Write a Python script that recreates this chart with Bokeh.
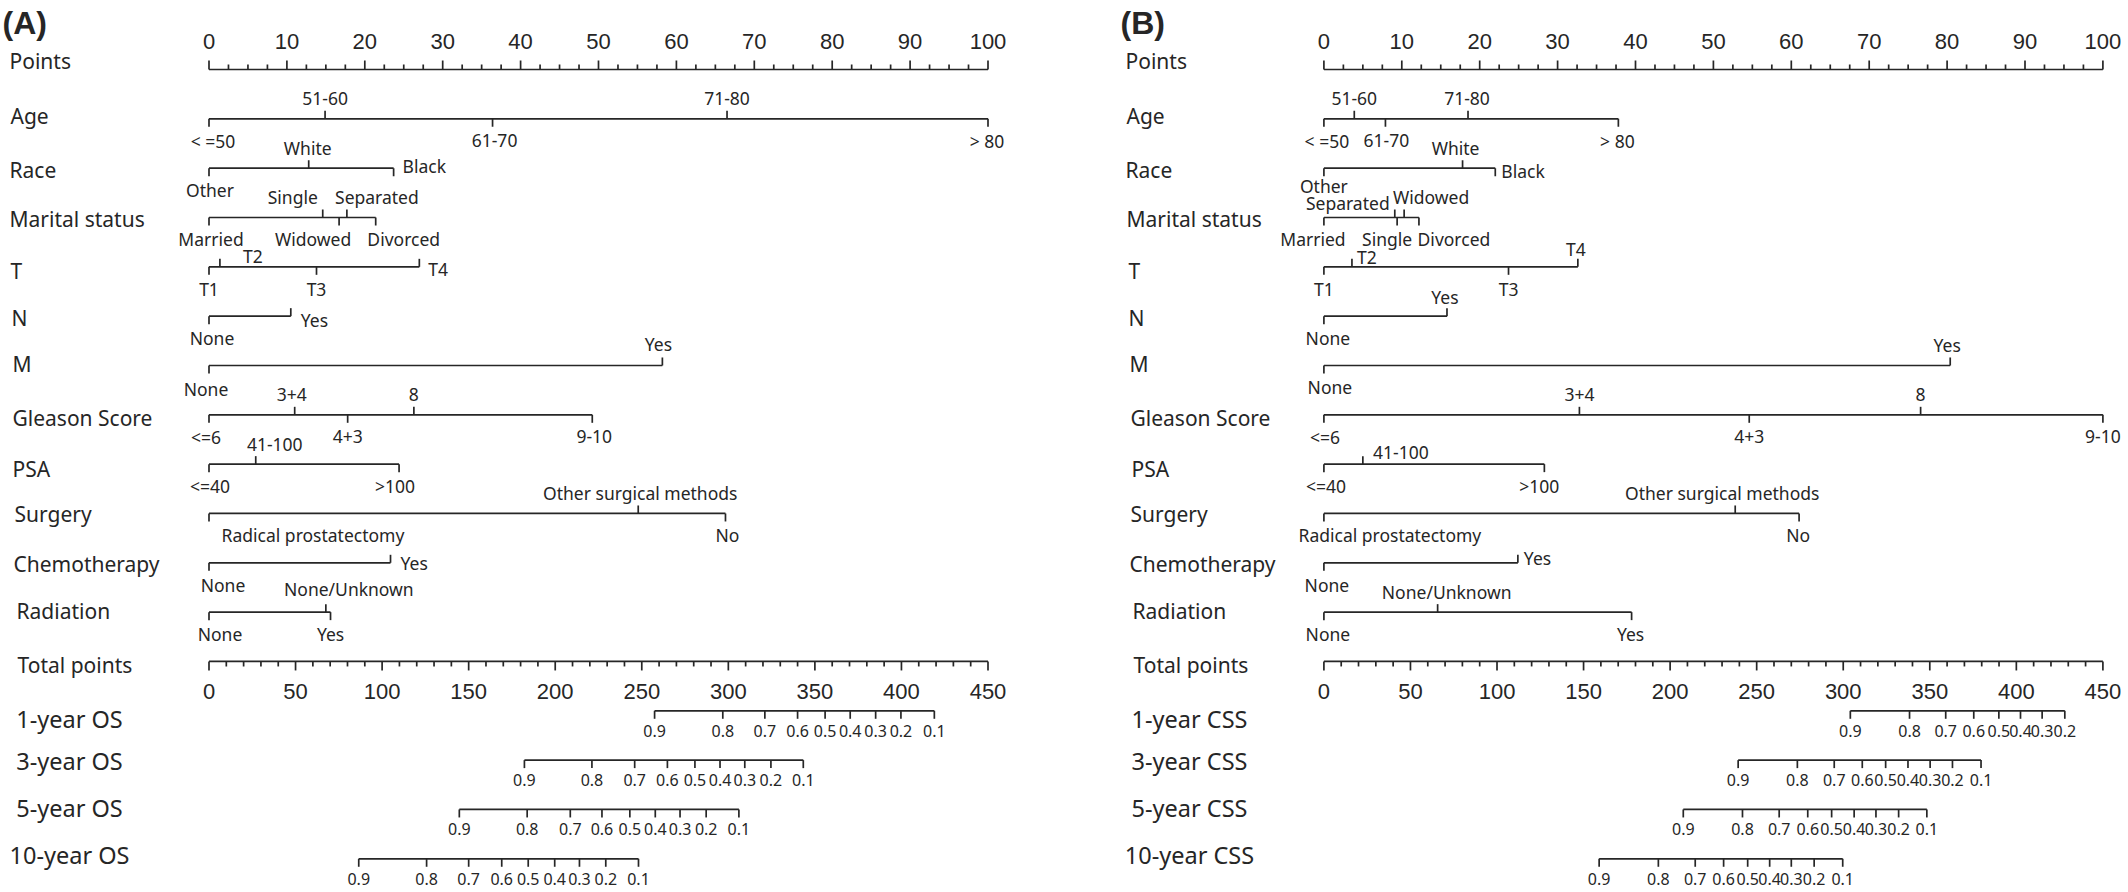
import numpy as np
from bokeh.plotting import figure
from bokeh.layouts import row
from bokeh.models import Range1d, ColumnDataSource
from bokeh.embed import file_html
from bokeh.resources import INLINE
from bokeh.core.properties import value

# ---------------- data ----------------
row_names_A = ["Points", "Age", "Race", "Marital status", "T", "N", "M", "Gleason Score", "PSA",
               "Surgery", "Chemotherapy", "Radiation", "Total points",
               "1-year OS", "3-year OS", "5-year OS", "10-year OS"]
row_names_B = ["Points", "Age", "Race", "Marital status", "T", "N", "M", "Gleason Score", "PSA",
               "Surgery", "Chemotherapy", "Radiation", "Total points",
               "1-year CSS", "3-year CSS", "5-year CSS", "10-year CSS"]

points_major = [0, 10, 20, 30, 40, 50, 60, 70, 80, 90, 100]
total_major = [0, 50, 100, 150, 200, 250, 300, 350, 400, 450]

age_levels = ["< =50", "51-60", "61-70", "71-80", "> 80"]
age_A = [0, 14.9, 36.4, 66.5, 100]
age_B = [0, 3.9, 7.9, 18.5, 37.8]

race_levels = ["Other", "White", "Black"]
race_A = [0, 12.8, 23.7]
race_B = [0, 17.8, 22.0]

marital_levels = ["Married", "Single", "Widowed", "Separated", "Divorced"]
marital_A = [0, 14.6, 16.7, 17.7, 21.4]
marital_B = [0, 9.4, 10.3, 9.1, 12.2]

t_levels = ["T1", "T2", "T3", "T4"]
t_A = [0, 1.4, 13.8, 27.0]
t_B = [0, 3.6, 23.7, 32.6]

n_levels = ["None", "Yes"]
n_A = [0, 10.5]
n_B = [0, 15.8]

m_levels = ["None", "Yes"]
m_A = [0, 58.2]
m_B = [0, 80.4]

gleason_levels = ["<=6", "3+4", "4+3", "8", "9-10"]
gleason_A = [0, 11.0, 17.8, 26.3, 49.2]
gleason_B = [0, 32.8, 54.6, 76.6, 100]

psa_levels = ["<=40", "41-100", ">100"]
psa_A = [0, 6.0, 24.4]
psa_B = [0, 5.0, 28.3]

surgery_levels = ["Radical prostatectomy", "Other surgical methods", "No"]
surgery_A = [0, 55.1, 66.3]
surgery_B = [0, 52.8, 61.0]

chemo_levels = ["None", "Yes"]
chemo_A = [0, 23.3]
chemo_B = [0, 24.9]

radiation_levels = ["None", "None/Unknown", "Yes"]
radiation_A = [0, 15.0, 15.6]
radiation_B = [0, 14.6, 39.5]

surv_probs = [0.9, 0.8, 0.7, 0.6, 0.5, 0.4, 0.3, 0.2, 0.1]
os_1y = [257.4, 296.8, 321.1, 340.0, 355.9, 370.4, 385.1, 399.7, 419.0]
os_3y = [182.2, 221.2, 245.9, 264.8, 280.7, 295.2, 309.5, 324.6, 343.3]
os_5y = [144.6, 183.8, 208.7, 227.0, 243.1, 257.8, 272.1, 287.2, 306.1]
os_10y = [86.5, 125.7, 150.0, 169.1, 184.4, 199.7, 214.0, 229.2, 248.1]
css_probs_1y = [0.9, 0.8, 0.7, 0.6, 0.5, 0.4, 0.3, 0.2]
css_1y = [304.1, 338.3, 359.2, 375.4, 389.9, 402.4, 414.9, 428.0]
css_3y = [239.3, 273.5, 294.8, 311.0, 324.5, 337.4, 350.2, 363.1, 379.6]
css_5y = [207.6, 241.8, 263.0, 279.5, 293.3, 306.3, 318.9, 332.0, 348.3]
css_10y = [159.0, 193.2, 214.5, 230.9, 244.8, 257.5, 270.0, 283.2, 299.7]

# ---------------- layout / style (pixels) ----------------
PX = 7.79          # screen px per point
ROWPX = 49.33      # screen px per row
ROW0_PAGE = 69     # page y of the Points axis line
FIG_W, FIG_H = 1064, 892
INK = "#262626"
LABEL_FONT = "Noto Sans"
NUM_FONT = "Liberation Sans"

# label placement: (side, dx px, dy px); side a=above/tick up, b=below/tick down, ru/rd=right of tick
place_A = [
    [("b", 4, 0), ("a", 0, 0), ("b", 2, 0), ("a", 0, 0), ("b", -1, 0)],
    [("b", 1, 0), ("a", -1, 0), ("rd", 9, -2)],
    [("b", 2, 0), ("a", -30, 0), ("b", -26, 0), ("a", 30, 0), ("b", 28, 0)],
    [("b", 0, 0), ("a", 33, 9), ("b", 0, 0), ("ru", 9, 2)],
    [("b", 3, 0), ("ru", 10, 4)],
    [("b", -3, 2), ("a", -4, -1)],
    [("b", -3, 0), ("a", -3, 0), ("b", 0, 0), ("a", 0, 0), ("b", 2, 0)],
    [("b", 1, 0), ("a", 19, 0), ("b", -4, 0)],
    [("b", 104, 0), ("a", 2, 0), ("b", 2, 0)],
    [("b", 14, 0), ("ru", 10, 0)],
    [("b", 11, 0), ("a", 23, -3), ("b", 0, 0)],
]
place_B = [
    [("b", 3, 0), ("a", 0, 0), ("b", 1, 0), ("a", -1, 0), ("b", -1, 0)],
    [("b", 0, -4), ("a", -7, 0), ("rd", 6, 3)],
    [("b", -11, 0), ("b", -10, 0), ("a", 27, 0), ("a", -47, 6), ("b", 35, 0)],
    [("b", 0, 0), ("a", 15, 10), ("b", 0, 0), ("a", -2, 2)],
    [("b", 4, 0), ("a", -2, 1)],
    [("b", 6, 0), ("a", -3, 0)],
    [("b", 1, 0), ("a", 0, 0), ("b", 0, 0), ("a", 0, 0), ("b", 0, 0)],
    [("b", 2, 0), ("a", 38, 8), ("b", -5, 0)],
    [("b", 66, 0), ("a", -13, 0), ("b", -1, 0)],
    [("b", 3, 0), ("ru", 6, -5)],
    [("b", 4, 0), ("a", 9, 0), ("b", -1, 0)],
]
rowlabel_dy = [-9, -3, 2, 2, 4, 2, -1, 3, 5, 1, 1, -1, 4, 8, 1, -1, -4]


def build(title, title_page_x, names, variables, places, surv, zero_page, fig_left_page,
          label_left_page, surv_center_page):
    x0 = (fig_left_page - zero_page) / PX
    y_top = (0 - ROW0_PAGE) / ROWPX
    p = figure(width=FIG_W, height=FIG_H, output_backend="svg", toolbar_location=None,
               x_axis_type=None, y_axis_type=None, min_border=0,
               x_range=Range1d(x0, x0 + FIG_W / PX),
               y_range=Range1d(y_top + FIG_H / ROWPX, y_top))
    p.outline_line_color = None
    p.background_fill_color = "white"
    p.border_fill_color = "white"

    segs = dict(x0=[], y0=[], x1=[], y1=[])

    def seg(a, b, c, d):
        segs["x0"].append(a); segs["y0"].append(b); segs["x1"].append(c); segs["y1"].append(d)

    texts = {}

    def txt(key, x, y, s):
        d = texts.setdefault(key, dict(x=[], y=[], text=[]))
        d["x"].append(x); d["y"].append(y); d["text"].append(s)

    px2x = lambda px: px / PX
    px2y = lambda px: px / ROWPX

    # Points axis (row 0)
    seg(0, 0, 100, 0)
    for v in np.arange(0, 100.001, 2.5):
        major = v in points_major
        seg(v, 0, v, -px2y(9 if major else 5))
    for v in points_major:
        txt(("num", "center"), v, -px2y(28), str(v))

    # category rows
    for r, ((levels, pts), place) in enumerate(zip(variables, places), start=1):
        seg(0, r, max(pts), r)
        for lev, v, (side, dx, dy) in zip(levels, pts, place):
            up = side in ("a", "ru")
            seg(v, r, v, r + px2y(-8 if up else 8))
            if side == "a":
                txt(("cat", "center"), v + px2x(dx), r + px2y(-20 + dy), lev)
            elif side == "b":
                txt(("cat", "center"), v + px2x(dx), r + px2y(22 + dy), lev)
            else:
                txt(("cat", "left"), v + px2x(dx), r + px2y(dy), lev)

    # Total points axis (row 12), total points shown on 0..450 -> 0..100 point scale
    tr = 12
    seg(0, tr, 100, tr)
    for v in np.arange(0, 451, 10):
        major = v in total_major
        seg(v / 4.5, tr, v / 4.5, tr + px2y(9 if major else 5))
    for v in total_major:
        txt(("num", "center"), v / 4.5, tr + px2y(30), str(v))

    # survival rows
    for k, (probs, vals) in enumerate(surv):
        r = 13 + k
        xs = [v / 4.5 for v in vals]
        seg(min(xs), r, max(xs), r)
        for pr, x in zip(probs, xs):
            seg(x, r, x, r + px2y(8))
            txt(("surv", "center"), x, r + px2y(20), f"{pr:.1f}")

    # row labels
    for i, nm in enumerate(names):
        y = i + px2y(rowlabel_dy[i])
        if i >= 13:
            txt(("srow", "center"), (surv_center_page - zero_page) / PX, y, nm)
        else:
            txt(("row", "left"), (label_left_page[i] - zero_page) / PX, y, nm)

    # title
    txt(("title", "left"), (title_page_x - zero_page) / PX, (22 - ROW0_PAGE) / ROWPX, title)

    p.segment(x0="x0", y0="y0", x1="x1", y1="y1", source=ColumnDataSource(segs),
              line_color=INK, line_width=1.7)

    styles = {
        "num": (NUM_FONT, "22px", "normal"),
        "cat": (LABEL_FONT, "17.5px", "normal"),
        "surv": (LABEL_FONT, "16px", "normal"),
        "row": (LABEL_FONT, "21px", "normal"),
        "srow": (LABEL_FONT, "23.5px", "normal"),
        "title": (NUM_FONT, "32px", "bold"),
    }
    for (kind, align), d in texts.items():
        font, size, style = styles[kind]
        p.text(x="x", y="y", text="text", source=ColumnDataSource(d),
               text_font=value(font), text_font_size=size, text_font_style=style,
               text_align=align, text_baseline="middle", text_color=INK)
    return p


vars_A = [(age_levels, age_A), (race_levels, race_A), (marital_levels, marital_A),
          (t_levels, t_A), (n_levels, n_A), (m_levels, m_A), (gleason_levels, gleason_A),
          (psa_levels, psa_A), (surgery_levels, surgery_A), (chemo_levels, chemo_A),
          (radiation_levels, radiation_A)]
vars_B = [(age_levels, age_B), (race_levels, race_B), (marital_levels, marital_B),
          (t_levels, t_B), (n_levels, n_B), (m_levels, m_B), (gleason_levels, gleason_B),
          (psa_levels, psa_B), (surgery_levels, surgery_B), (chemo_levels, chemo_B),
          (radiation_levels, radiation_B)]
surv_A = [(surv_probs, os_1y), (surv_probs, os_3y), (surv_probs, os_5y), (surv_probs, os_10y)]
surv_B = [(css_probs_1y, css_1y), (surv_probs, css_3y), (surv_probs, css_5y), (surv_probs, css_10y)]

left_A = [9, 10, 9, 9, 10, 11, 12, 12, 12, 14, 13, 16, 17]
left_B = [1125, 1126, 1125, 1126, 1128, 1128, 1129, 1130, 1131, 1130, 1129, 1132, 1133]

pA = build("(A)", 2, row_names_A, vars_A, place_A, surv_A, 208.5, 0, left_A, 69)
pB = build("(B)", 1120, row_names_B, vars_B, place_B, surv_B, 1323.4, 1064, left_B, 1189)

layout = row(pA, pB, spacing=0)
open("out.html", "w").write(file_html(layout, INLINE))
